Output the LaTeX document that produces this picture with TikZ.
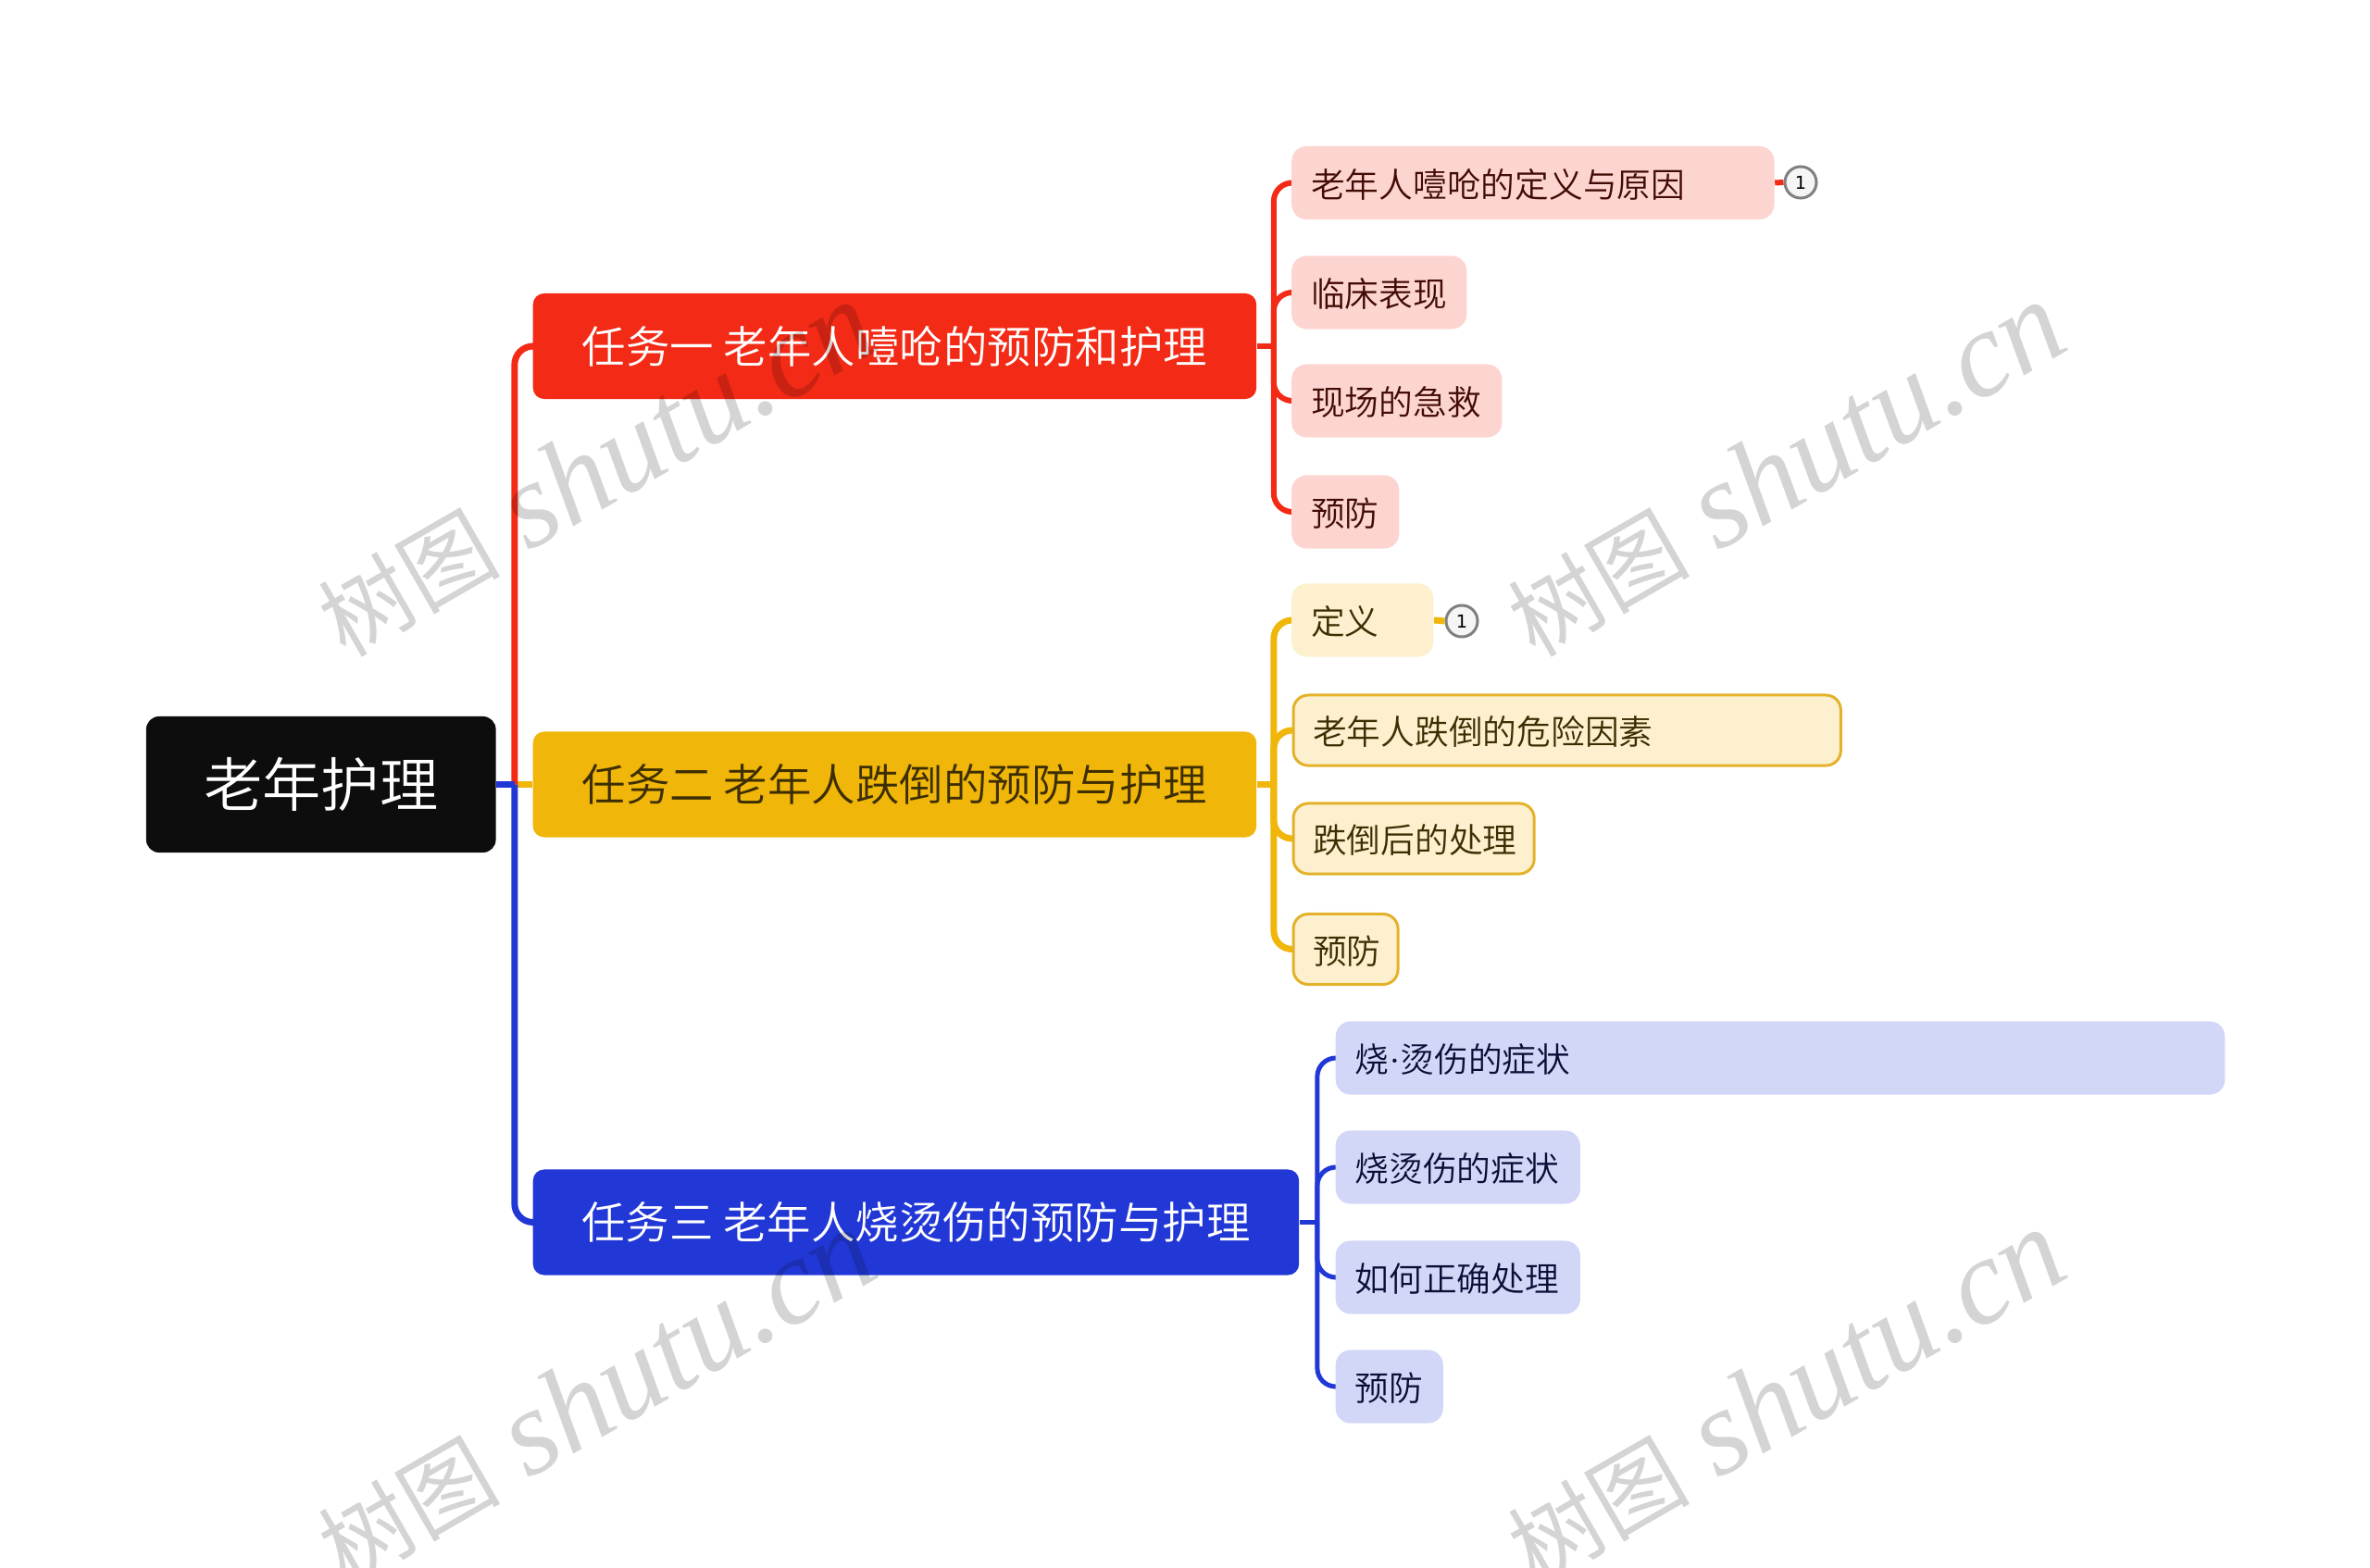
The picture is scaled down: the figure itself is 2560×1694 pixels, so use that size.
\documentclass[tikz,border=0pt]{standalone}
\usepackage{fontspec}
\setmainfont{Noto Sans CJK SC DemiLight}
\newfontfamily\wmlatin{Liberation Serif}
\newfontfamily\wmcjk{Noto Sans CJK SC}
\newfontfamily\numfont{DejaVu Sans}
\usetikzlibrary{positioning}
\pgfdeclarelayer{background}
\pgfdeclarelayer{foreground}
\pgfsetlayers{background,main,foreground}
\definecolor{rootblack}{HTML}{0D0D0D}
\definecolor{redmain}{HTML}{F22A16}
\definecolor{yellowmain}{HTML}{F0B609}
\definecolor{yellowedge}{HTML}{E3B22A}
\definecolor{bluemain}{HTML}{2238D6}
\definecolor{redsoft}{HTML}{FDD5D0}
\definecolor{yellowsoft}{HTML}{FCF0CF}
\definecolor{bluesoft}{HTML}{D3D7F7}
\definecolor{redink}{HTML}{420B05}
\definecolor{yellowink}{HTML}{3D2E02}
\definecolor{blueink}{HTML}{0B0F38}

\begin{document}
\begin{tikzpicture}[
	x=0.01cm, y=-0.01cm,
	rootnode/.style={fill=rootblack, text=white, rounded corners=0.14cm, minimum width=3.775cm, minimum height=1.47cm, inner sep=0pt, font=\fontsize{18}{22}\selectfont},
	branchnode/.style={anchor=west, rounded corners=0.12cm, minimum height=1.14cm, inner sep=0pt, font=\fontsize{13.5}{17}\selectfont},
	leafnode/.style={anchor=west, rounded corners=0.16cm, minimum height=0.79cm, inner xsep=0.21cm, inner ysep=0pt, text height=0.34cm, text depth=0.03cm, align=left, font=\fontsize{10.45}{13}\selectfont},
	redleaf/.style={leafnode, fill=redsoft, text=redink},
	yellowleaf/.style={leafnode, fill=yellowsoft, text=yellowink},
	yellowbox/.style={yellowleaf, draw=yellowedge, line width=0.03cm, minimum height=0.76cm},
	blueleaf/.style={leafnode, fill=bluesoft, text=blueink},
	countnode/.style={circle, draw=black!50, fill=black!4, line width=0.03cm, minimum size=0.34cm, inner sep=0pt, font=\numfont\fontsize{5.5}{6}\selectfont},
	trunk/.style={line width=0.07cm, rounded corners=0.2cm},
	redlink/.style={draw=redmain, line width=0.06cm, rounded corners=0.2cm},
	yellowlink/.style={draw=yellowmain, line width=0.07cm, rounded corners=0.2cm},
	bluelink/.style={draw=bluemain, line width=0.05cm, rounded corners=0.2cm},
	stamp/.style={rotate=30, text=black, text opacity=0.17, inner sep=0pt},
	]
	%Nodes
	\useasboundingbox (0,0) rectangle (2560,1694);
	\node[rootnode]                                  (root) at (346.75,847.5) {老年护理};
	\node[branchnode, fill=redmain, text=white, minimum width=7.81cm]        (task1) at (575,374)    {任务一 老年人噎呛的预防和护理};
	\node[branchnode, fill=yellowmain, text=yellowink, minimum width=7.81cm] (task2) at (575,847.5)  {任务二 老年人跌倒的预防与护理};
	\node[branchnode, fill=bluemain, text=white, minimum width=8.27cm]       (task3) at (575,1320.5) {任务三 老年人烧烫伤的预防与护理};

	\node[redleaf, text width=4.79cm]    (r1) at (1394.5,197.5) {老年人噎呛的定义与原因};
	\node[redleaf, text width=1.47cm]    (r2) at (1394.5,316)   {临床表现};
	\node[redleaf, text width=1.85cm]    (r3) at (1394.5,433)   {现场的急救};
	\node[redleaf, text width=0.74cm]    (r4) at (1394.5,553)   {预防};
	\node[countnode]                     (c1) at (1945,197)   {1};

	\node[yellowleaf, text width=1.11cm] (y1) at (1394.5,670)   {定义};
	\node[yellowbox, text width=5.49cm]  (y2) at (1395.5,789)   {老年人跌倒的危险因素};
	\node[yellowbox, text width=2.18cm]  (y3) at (1395.5,906)   {跌倒后的处理};
	\node[yellowbox, text width=0.71cm]  (y4) at (1395.5,1025.5) {预防};
	\node[countnode]                     (c2) at (1579,671)   {1};

	\node[blueleaf, text width=9.18cm]   (b1) at (1442,1143)  {烧{\wmlatin ·}烫伤的症状};
	\node[blueleaf, text width=2.22cm]   (b2) at (1442,1261)  {烧烫伤的症状};
	\node[blueleaf, text width=2.22cm]   (b3) at (1442,1380)  {如何正确处理};
	\node[blueleaf, text width=0.74cm]   (b4) at (1442,1498)  {预防};

	\begin{pgfonlayer}{background}
	\draw[yellowlink] (root.east) -- (task2.west);
	\draw[redlink, trunk] (root.east) ++(19.5,0) |- (task1.west);
	\draw[bluelink, trunk] (root.east) ++(19.5,0) |- (task3.west);
	\draw[bluelink, trunk] (root.east) -- ++(19.5,0);

	\draw[redlink] (task1.east) -- ++(18,0);
	\draw[redlink] (task1.east) ++(18,0) |- (r1.west);
	\draw[redlink] (task1.east) ++(18,0) |- (r2.west);
	\draw[redlink] (task1.east) ++(18,0) |- (r3.west);
	\draw[redlink] (task1.east) ++(18,0) |- (r4.west);
	\draw[redlink] (r1.east) -- (c1.west);

	\draw[yellowlink] (task2.east) -- ++(18,0);
	\draw[yellowlink] (task2.east) ++(18,0) |- (y1.west);
	\draw[yellowlink] (task2.east) ++(18,0) |- (y2.west);
	\draw[yellowlink] (task2.east) ++(18,0) |- (y3.west);
	\draw[yellowlink] (task2.east) ++(18,0) |- (y4.west);
	\draw[yellowlink] (y1.east) -- (c2.west);

	\draw[bluelink] (task3.east) -- ++(19,0);
	\draw[bluelink] (task3.east) ++(19,0) |- (b1.west);
	\draw[bluelink] (task3.east) ++(19,0) |- (b2.west);
	\draw[bluelink] (task3.east) ++(19,0) |- (b3.west);
	\draw[bluelink] (task3.east) ++(19,0) |- (b4.west);
	\end{pgfonlayer}

	\begin{pgfonlayer}{foreground}
	\newcommand{\stamptext}{{\wmcjk\fontsize{28}{28}\selectfont 树图}\hspace{9pt}{\wmlatin\itshape\fontsize{37.5}{37.5}\selectfont shutu.cn}}
	\node[stamp] (stamp1) at (643,507)  {\stamptext};
	\node[stamp] (stamp2) at (1928,507) {\stamptext};
	\node[stamp] (stamp3) at (643,1509) {\stamptext};
	\node[stamp] (stamp4) at (1928,1509) {\stamptext};
	\end{pgfonlayer}
\end{tikzpicture}
\end{document}
